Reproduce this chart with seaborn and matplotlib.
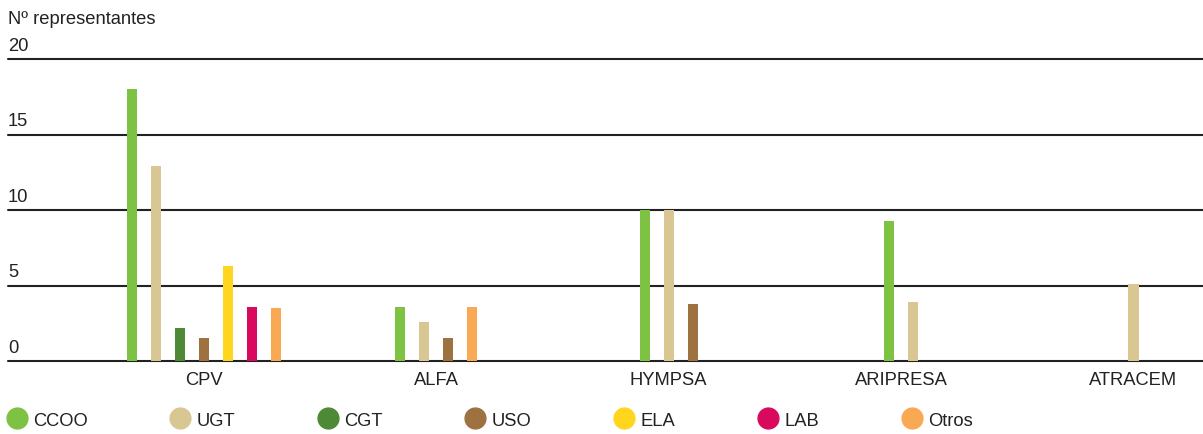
"""
plot.py - representantes sindicales por empresa (barras agrupadas)
"""

import numpy as np
import pandas as pd
import matplotlib
matplotlib.use("Agg")
import matplotlib.pyplot as plt
from matplotlib.lines import Line2D
import seaborn as sns

CATEGORIES = ["CPV", "ALFA", "HYMPSA", "ARIPRESA", "ATRACEM"]
SERIES = ["CCOO", "UGT", "CGT", "USO", "ELA", "LAB", "Otros"]

# valores por sindicato (None = sin representantes, no se dibuja barra)
CCOO = [18, 3.6, 10, 9.3, None]
UGT = [12.9, 2.6, 10, 3.9, 5.1]
CGT = [2.2, None, None, None, None]
USO = [1.5, 1.5, 3.8, None, None]
ELA = [6.3, None, None, None, None]
LAB = [3.6, None, None, None, None]
OTROS = [3.5, 3.6, None, None, None]

Y_TICKS = [0, 5, 10, 15, 20]
Y_LABEL = "Nº representantes"

COLORS = ["#7DC242", "#D9C793", "#4E8A35", "#9E7141", "#FFD51E", "#D90A5E", "#F9A953"]
TEXT = "#222222"
FS = 13.2
STEP = 0.1033  # separacion entre barras dentro de un grupo (unidades de categoria)


def build_frame():
    rows = []
    for name, vals in zip(SERIES, [CCOO, UGT, CGT, USO, ELA, LAB, OTROS]):
        for i, v in enumerate(vals):
            if v is not None:
                rows.append({"empresa": i, "sindicato": name, "valor": v,
                             "orden": SERIES.index(name)})
    df = pd.DataFrame(rows).sort_values(["empresa", "orden"])
    # solo las barras presentes en cada grupo, centradas en la categoria
    df["rank"] = df.groupby("empresa").cumcount()
    n = df.groupby("empresa")["rank"].transform("max") + 1
    df["pos"] = df["empresa"] + (df["rank"] - (n - 1) / 2) * STEP
    return df


def main():
    sns.set_theme(style="white")
    plt.rcParams["font.family"] = ["Liberation Sans", "DejaVu Sans"]

    df = build_frame()
    fig = plt.figure(figsize=(12.03, 4.35), dpi=100)
    ax = fig.add_axes([0.0067, 0.1678, 0.9933, 0.6942])

    for t in Y_TICKS:
        ax.axhline(t, color=TEXT, lw=1.5, zorder=1, clip_on=False)
        ax.text(0, t + 0.35, str(t), transform=ax.get_yaxis_transform(),
                ha="left", va="bottom", fontsize=FS, color=TEXT)
    ax.text(0, 1.105, Y_LABEL, transform=ax.transAxes, ha="left", va="bottom",
            fontsize=FS, color=TEXT)

    sns.barplot(data=df, x="pos", y="valor", hue="sindicato", hue_order=SERIES,
                palette=COLORS, native_scale=True, dodge=False, width=0.42,
                errorbar=None, saturation=1, linewidth=0, legend=False,
                zorder=2, ax=ax)

    ax.set_xlim(-0.843, 4.299)
    ax.set_ylim(0, 20)
    ax.set_xticks(range(len(CATEGORIES)))
    ax.set_xticklabels(CATEGORIES, fontsize=FS, color=TEXT)
    ax.tick_params(axis="x", length=0, pad=7)
    ax.set_yticks([])
    ax.set_xlabel("")
    ax.set_ylabel("")
    for s in ax.spines.values():
        s.set_visible(False)

    handles = [Line2D([], [], marker="o", ls="", markersize=15,
                      markerfacecolor=c, markeredgecolor=c) for c in COLORS]
    fig.legend(handles, SERIES, loc="lower left", ncol=7, mode="expand",
               bbox_to_anchor=(0.0, -0.005, 0.815, 0.08), frameon=False,
               fontsize=FS, handletextpad=0.4, borderaxespad=0,
               handlelength=1.0, labelcolor=TEXT)

    fig.savefig("out.png", dpi=100)


if __name__ == "__main__":
    main()
